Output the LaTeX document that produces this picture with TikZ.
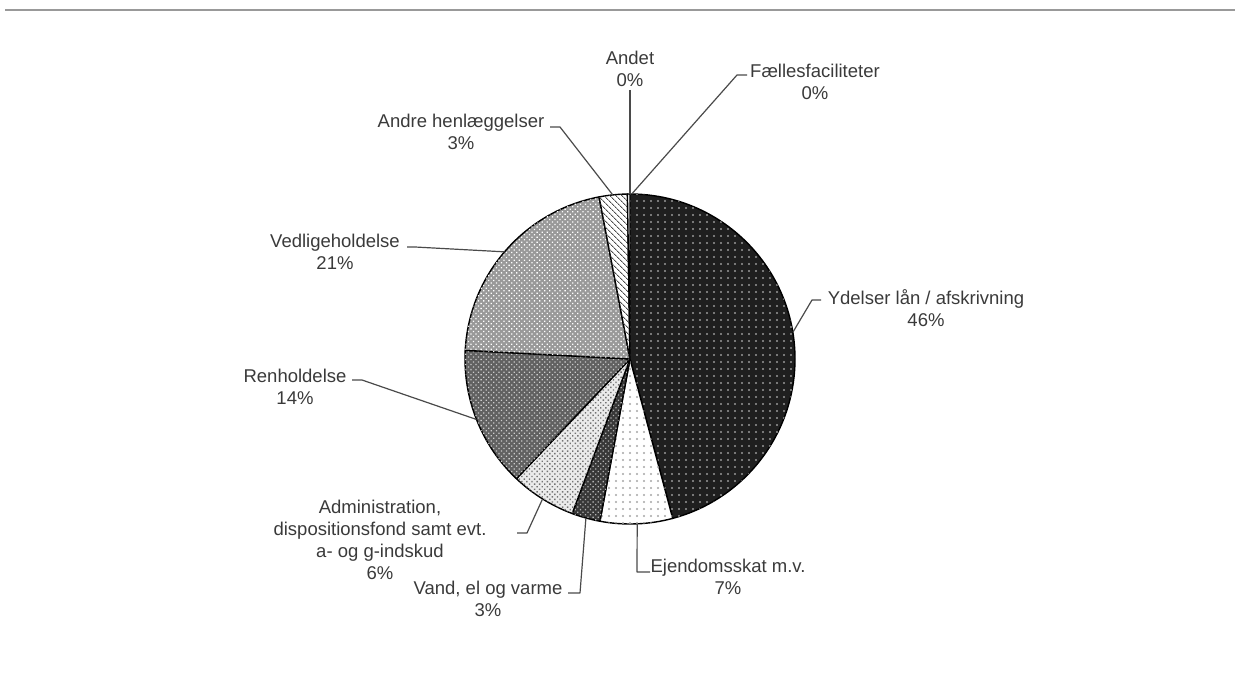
\documentclass[tikz,border=0pt]{standalone}
\usepackage{fontspec}
\newfontfamily\lblfont{Liberation Sans}
\usetikzlibrary{patterns.meta,calc}
\definecolor{txt}{HTML}{3A3A3A}
\definecolor{lead}{HTML}{4A4A4A}
\newcommand\pieslice[3]{\draw[wedge,#3] (c) -- ($(c)+(#1:165)$) arc[start angle=#1, end angle=#2, radius=165] -- cycle;}
\begin{document}
\begin{tikzpicture}[x=1pt,y=1pt,
  lbl/.style={font=\lblfont\fontsize{18.5}{22}\selectfont, text=txt, align=center, inner sep=0pt, anchor=north},
  leader/.style={draw=lead, line width=1.2pt, line join=round},
  wedge/.style={draw=black, line width=1.4pt, line join=round},
  sYd/.style={fill=black!88, postaction={pattern={Dots[distance=7pt,radius=1.1pt]}, pattern color=black!40}},
  sEj/.style={fill=white, postaction={pattern={Dots[distance=7pt,radius=1.1pt]}, pattern color=black!35}},
  sVa/.style={fill=black!78, postaction={pattern={Dots[distance=3.6pt,radius=0.9pt,angle=45]}, pattern color=black!30}},
  sAd/.style={fill=black!8, postaction={pattern={Dots[distance=3.6pt,radius=1.0pt,angle=45]}, pattern color=black!55}},
  sRe/.style={fill=black!62, postaction={pattern={Dots[distance=3.6pt,radius=0.9pt,angle=45]}, pattern color=black!20}},
  sVe/.style={fill=black!40, postaction={pattern={Dots[distance=3.6pt,radius=0.9pt,angle=45]}, pattern color=white}},
  sAn/.style={fill=white, postaction={pattern={Lines[distance=4pt,angle=-45,line width=0.9pt]}, pattern color=black!70}},
  sZe/.style={fill=white}]
\useasboundingbox (0,0) rectangle (1235,-698);
\coordinate (ruleL) at (5,-10);
\coordinate (ruleR) at (1235,-10);
\draw[black!40, line width=1.5pt] (ruleL) -- (ruleR);

\coordinate (c) at (630,-359);

% slices
\pieslice{90}{-75}{sYd}
\pieslice{-75}{-100.5}{sEj}
\pieslice{-100.5}{-110.5}{sVa}
\pieslice{-110.5}{-133.5}{sAd}
\pieslice{-133.5}{-183}{sRe}
\pieslice{-183}{-259.2}{sVe}
\pieslice{100.8}{90.9}{sAn}
\pieslice{90.9}{90}{sZe}

% labels
\node[lbl] (yd) at (926,-289) {Ydelser lån / afskrivning\\46\%};
\node[lbl] (ej) at (728,-559) {Ejendomsskat m.v.\\7\%};
\node[lbl] (va) at (488,-581) {Vand, el og varme\\3\%};
\node[lbl] (ad) at (380,-500) {Administration,\\dispositionsfond samt evt.\\a- og g-indskud\\6\%};
\node[lbl] (re) at (295,-369) {Renholdelse\\14\%};
\node[lbl] (ve) at (335,-234) {Vedligeholdelse\\21\%};
\node[lbl] (anh) at (461,-114) {Andre henlæggelser\\3\%};
\node[lbl] (and) at (630,-51) {Andet\\0\%};
\node[lbl] (fa) at (815,-64) {Fællesfaciliteter\\0\%};

% leader points on pie
\coordinate (pYd) at ($(c)+(9.3:165)$);
\coordinate (pEj) at ($(c)+(-87.5:165)$);
\coordinate (pVa) at ($(c)+(-105.5:165)$);
\coordinate (pAd) at ($(c)+(-122:165)$);
\coordinate (pRe) at ($(c)+(-158.5:165)$);
\coordinate (pVe) at ($(c)+(139.5:165)$);
\coordinate (pAnh) at ($(c)+(96:165)$);
\coordinate (pAnd) at ($(c)+(90:165)$);
\coordinate (pFa) at ($(c)+(89.4:165)$);

% leader ticks
\coordinate (tYd1) at (821,-300); \coordinate (tYd2) at (812,-300);
\coordinate (tEj1) at (650,-572); \coordinate (tEj2) at (637,-572);
\coordinate (tVa1) at (568,-593); \coordinate (tVa2) at (580,-593);
\coordinate (tAd1) at (517,-533); \coordinate (tAd2) at (527,-533);
\coordinate (tRe1) at (352,-380); \coordinate (tRe2) at (362,-380);
\coordinate (tVe1) at (407,-247); \coordinate (tVe2) at (415,-247);
\coordinate (tAnh1) at (550,-127); \coordinate (tAnh2) at (560,-127);
\coordinate (tAnd) at (630,-90);
\coordinate (tFa1) at (747,-75); \coordinate (tFa2) at (737,-75);

\draw[leader] (tYd1) -- (tYd2) -- (pYd);
\draw[leader] (tEj1) -- (tEj2) -- (pEj);
\draw[leader] (tVa1) -- (tVa2) -- (pVa);
\draw[leader] (tAd1) -- (tAd2) -- (pAd);
\draw[leader] (tRe1) -- (tRe2) -- (pRe);
\draw[leader] (tVe1) -- (tVe2) -- (pVe);
\draw[leader] (tAnh1) -- (tAnh2) -- (pAnh);
\draw[leader] (tAnd) -- (pAnd);
\draw[leader] (tFa1) -- (tFa2) -- (pFa);
\end{tikzpicture}
\end{document}
